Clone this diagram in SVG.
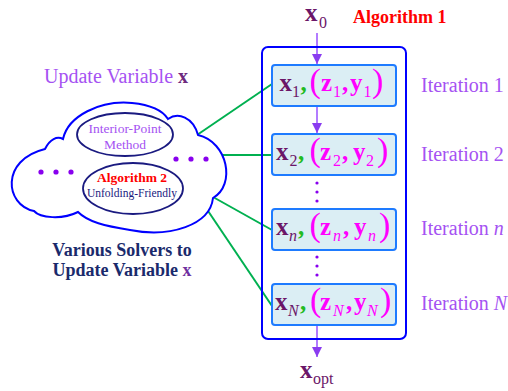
<svg xmlns="http://www.w3.org/2000/svg" width="508" height="391" viewBox="0 0 508 391">
<defs>
<style>
text{font-family:"Liberation Serif","Times New Roman",serif}
.lbl{font-size:20px;fill:#a552f2}
.it{font-style:italic}
.bx{font-weight:bold;font-size:25px;fill:#6b1668}
.bm{font-weight:bold;font-size:25px;fill:#ff00ff}
.sx{font-size:16px;fill:#6b1668}
.sm{font-size:16px;fill:#ff00ff}
.gc{font-weight:bold;font-size:25px;fill:#22bb22}
.mc{font-weight:bold;font-size:25px;fill:#ff00ff}
.par{font-size:34px;fill:#ff00ff}
.box{fill:#dbeef4;stroke:#1e7bff;stroke-width:2}
.conn{stroke:#00b050;stroke-width:2;fill:none}
.arr{stroke:#b27cff;stroke-width:2;fill:none;marker-end:url(#ah)}
.dot{fill:#8800ee}
.ell{fill:none;stroke:#1a1a80;stroke-width:1.8}
</style>
<marker id="ah" viewBox="0 0 10 10" refX="10" refY="5" markerWidth="5" markerHeight="5" markerUnits="strokeWidth" orient="auto">
<path d="M0,0 L10,5 L0,10 Z" fill="#8a3cf0"/>
</marker>
</defs>
<rect width="508" height="391" fill="#ffffff"/>

<g id="connectors">
<line class="conn" x1="197" y1="135" x2="272" y2="84"/>
<line class="conn" x1="223" y1="155" x2="272" y2="155"/>
<line class="conn" x1="213" y1="197" x2="272" y2="230"/>
<line class="conn" x1="202" y1="202" x2="272" y2="306"/>
<line class="arr" x1="317" y1="33" x2="317" y2="64"/>
<line class="arr" x1="317" y1="106" x2="317" y2="133"/>
<line class="arr" x1="317" y1="325" x2="317" y2="357"/>
</g>

<g id="algorithm1">
<rect x="262" y="47" width="144" height="292" rx="6" fill="none" stroke="#0000ff" stroke-width="2"/>
<text x="353" y="23" font-family="Liberation Serif, serif" font-weight="bold" font-size="18" fill="#ff0000">Algorithm 1</text>
</g>

<g id="x0">
<text y="21"><tspan class="bx" x="305" font-size="24">x</tspan><tspan class="sx" x="319" y="28">0</tspan></text>
</g>

<g id="xopt">
<text y="378"><tspan class="bx" x="300" font-size="24">x</tspan><tspan class="sx" x="313" y="384">opt</tspan></text>
</g>

<g id="iter1">
<rect class="box" x="272" y="65" width="124" height="41" rx="3"/>
<text y="90.5"><tspan class="bx" x="279.5">x</tspan><tspan class="sx" x="292" y="97">1</tspan><tspan class="gc" x="300.5" y="90.5">,</tspan><tspan class="par" x="309.5" y="92">(</tspan><tspan class="bm" x="321" y="90.5">z</tspan><tspan class="sm" x="333" y="97">1</tspan><tspan class="mc" x="342" y="90.5">,</tspan><tspan class="bm" x="350">y</tspan><tspan class="sm" x="363.5" y="97">1</tspan><tspan class="par" x="372" y="92">)</tspan></text>
<text class="lbl" x="421" y="92">Iteration 1</text>
</g>

<g id="iter2">
<rect class="box" x="272" y="134" width="124" height="41" rx="3"/>
<text y="159.5"><tspan class="bx" x="276">x</tspan><tspan class="sx" x="289.5" y="166">2</tspan><tspan class="gc" x="298" y="159.5">,</tspan><tspan class="par" x="309.5" y="161">(</tspan><tspan class="bm" x="320" y="159.5">z</tspan><tspan class="sm" x="333" y="166">2</tspan><tspan class="mc" x="342" y="159.5">,</tspan><tspan class="bm" x="353">y</tspan><tspan class="sm" x="366" y="166">2</tspan><tspan class="par" x="377" y="161">)</tspan></text>
<text class="lbl" x="421" y="161">Iteration 2</text>
</g>

<g id="dots1">
<circle class="dot" cx="317" cy="183" r="1.6"/>
<circle class="dot" cx="317" cy="192" r="1.6"/>
<circle class="dot" cx="317" cy="201" r="1.6"/>
</g>

<g id="itern">
<rect class="box" x="272" y="209" width="124" height="41" rx="3"/>
<text y="234.5"><tspan class="bx" x="276">x</tspan><tspan class="sx it" x="289" y="241">n</tspan><tspan class="gc" x="298" y="234.5">,</tspan><tspan class="par" x="309.5" y="236">(</tspan><tspan class="bm" x="320" y="234.5">z</tspan><tspan class="sm it" x="333" y="241">n</tspan><tspan class="mc" x="343" y="234.5">,</tspan><tspan class="bm" x="354">y</tspan><tspan class="sm it" x="368" y="241">n</tspan><tspan class="par" x="379" y="236">)</tspan></text>
<text class="lbl" x="421" y="235">Iteration <tspan class="it">n</tspan></text>
</g>

<g id="dots2">
<circle class="dot" cx="317" cy="257" r="1.6"/>
<circle class="dot" cx="317" cy="266" r="1.6"/>
<circle class="dot" cx="317" cy="275" r="1.6"/>
</g>

<g id="iterN">
<rect class="box" x="272" y="284" width="124" height="41" rx="3"/>
<text y="309.5"><tspan class="bx" x="275">x</tspan><tspan class="sx it" x="288" y="316">N</tspan><tspan class="gc" x="300" y="309.5">,</tspan><tspan class="par" x="310" y="311">(</tspan><tspan class="bm" x="320" y="309.5">z</tspan><tspan class="sm it" x="333" y="316">N</tspan><tspan class="mc" x="346" y="309.5">,</tspan><tspan class="bm" x="354">y</tspan><tspan class="sm it" x="367" y="316">N</tspan><tspan class="par" x="380" y="311">)</tspan></text>
<text class="lbl" x="421" y="310">Iteration <tspan class="it">N</tspan></text>
</g>

<g id="update-label">
<text class="lbl" x="44" y="83">Update Variable <tspan font-weight="bold" fill="#6e2a7e">x</tspan></text>
</g>

<g id="cloud">
<path d="M45,149 C50,139 57,136 63,139 C68,116 100,100 132,103 C152,105 163,111 168,119 C178,112 193,117 198,135 C228,142 236,185 213,198 C210,225 170,238 130,230 C105,226 88,222 78,212 C62,220 40,218 34,211 C5,205 0,160 45,149 Z" fill="#ffffff" stroke="#0000ff" stroke-width="2"/>
<circle class="dot" cx="41" cy="172" r="2.6"/>
<circle class="dot" cx="56" cy="172" r="2.6"/>
<circle class="dot" cx="71" cy="172" r="2.6"/>
<circle class="dot" cx="176" cy="159" r="2.6"/>
<circle class="dot" cx="191" cy="159" r="2.6"/>
<circle class="dot" cx="206" cy="159" r="2.6"/>
</g>

<g id="interior-point">
<ellipse class="ell" cx="125" cy="134.5" rx="48" ry="21.5"/>
<text x="125" y="133" text-anchor="middle" font-size="13.5" fill="#a552f2">Interior-Point</text>
<text x="125" y="149" text-anchor="middle" font-size="13.5" fill="#a552f2">Method</text>
</g>

<g id="algorithm2">
<ellipse class="ell" cx="133" cy="188.5" rx="50" ry="25.5"/>
<text x="132" y="182" text-anchor="middle" font-family="Liberation Serif, serif" font-size="13.5" font-weight="bold" fill="#ff0000">Algorithm 2</text>
<text x="132" y="196.5" text-anchor="middle" font-size="11.5" fill="#1a1a80">Unfolding-Friendly</text>
</g>

<g id="solvers-label">
<text x="122" y="256" text-anchor="middle" font-family="Liberation Serif, serif" font-size="18" font-weight="bold" fill="#1a2a6c">Various Solvers to</text>
<text x="122" y="276" text-anchor="middle" font-family="Liberation Serif, serif" font-size="18" font-weight="bold" fill="#1a2a6c">Update Variable <tspan fill="#7030a0">x</tspan></text>
</g>
</svg>
